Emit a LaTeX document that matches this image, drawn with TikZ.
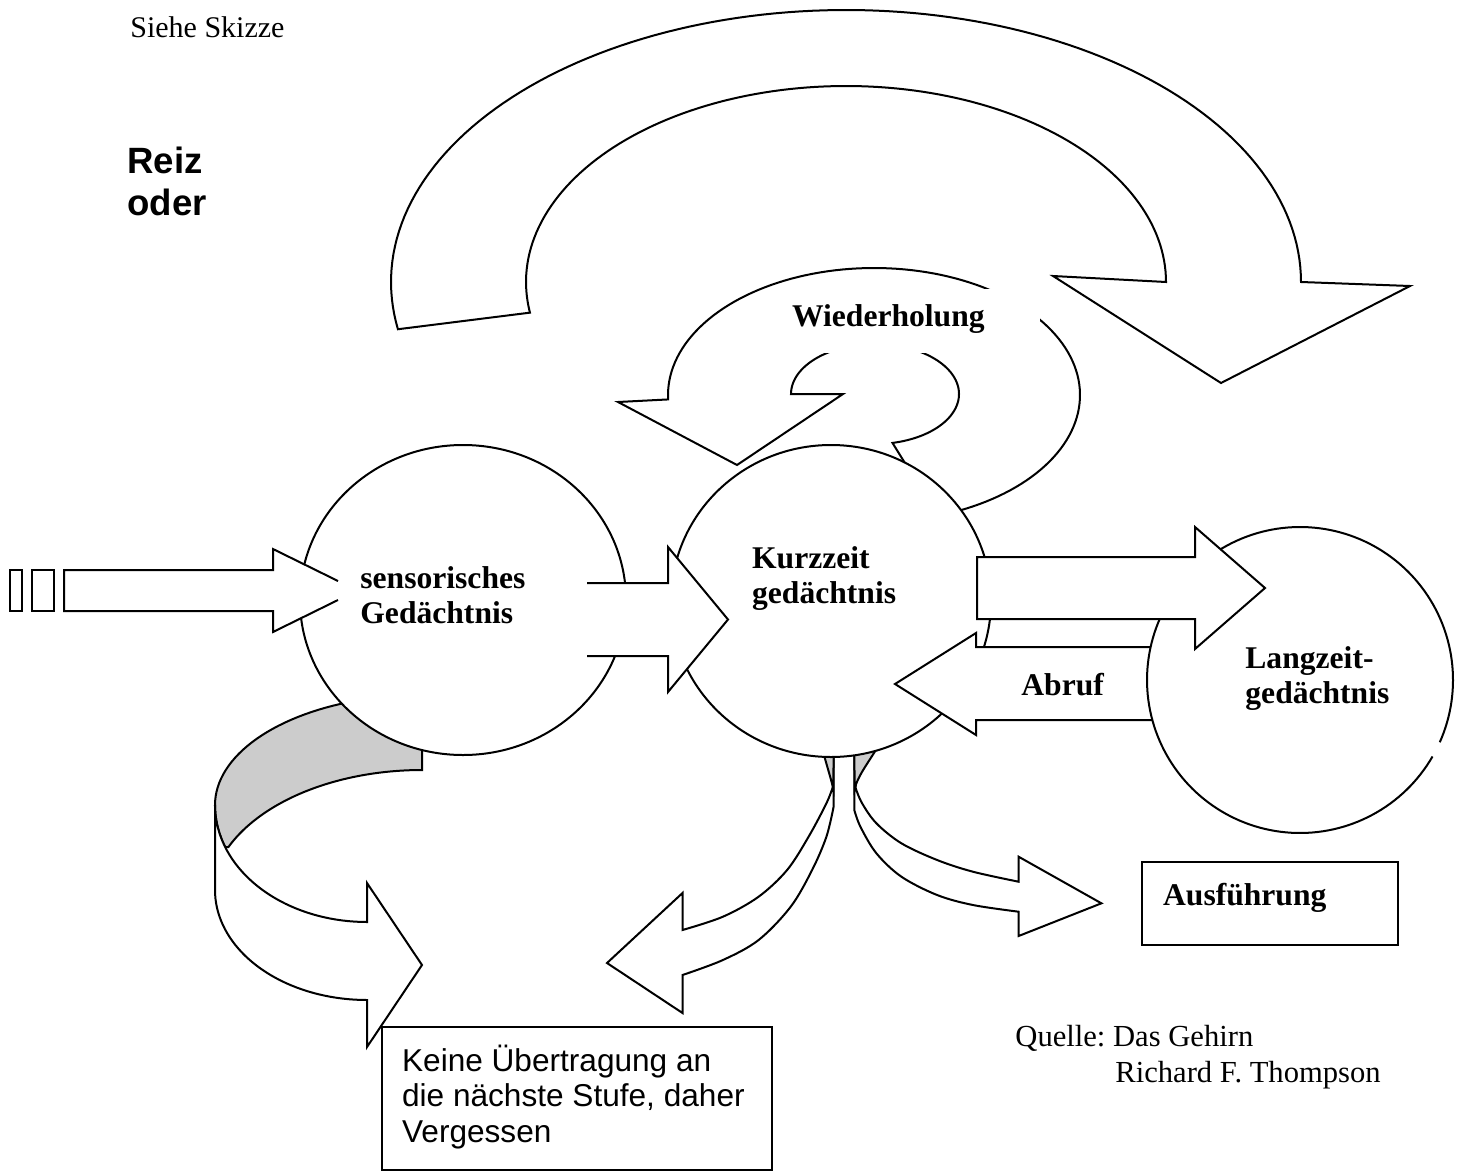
\documentclass[tikz,border=0pt]{standalone}
\usepackage{fontspec}
\setmainfont{Liberation Serif}
\newfontfamily\arialfont{Liberation Sans}
\usetikzlibrary{shapes.geometric}
\definecolor{shade}{gray}{0.8}
\frenchspacing
\begin{document}
\begin{tikzpicture}[x=0.5pt,y=-0.5pt,
  outline/.style={draw=black,line width=1pt,line join=miter,fill=white},
  grayband/.style={draw=black,line width=1pt,line join=miter,fill=shade},
  lbl/.style={inner sep=0pt,anchor=base west,font=\fontsize{15.8}{17.5}\selectfont\bfseries},
  plainlbl/.style={inner sep=0pt,anchor=base west,font=\fontsize{15.3}{17.5}\selectfont},
  sanslbl/.style={inner sep=0pt,anchor=base west,font=\arialfont\fontsize{15.8}{17.5}\selectfont},
  reizlbl/.style={inner sep=0pt,anchor=base west,font=\arialfont\bfseries\fontsize{18.3}{21}\selectfont},
  memory/.style={ellipse,draw=black,line width=1pt,fill=white,inner sep=0pt}
]
\useasboundingbox (0,0) rectangle (1460,1172);
\fill[white] (0,0) rectangle (1460,1172);

% big arc arrow on top
\draw[outline] plot[domain=0:190,samples=120] ({846+455*cos(190-\x)},{282-272*sin(190-\x)})
  -- (1410,286) -- (1221,383) -- (1053,276)
  -- plot[domain=0:189,samples=120] ({846+320*cos(\x)},{282-196*sin(\x)}) -- cycle;

% Wiederholung loop arrow
\draw[outline] (618,402)
  -- plot[domain=0:254,samples=120] ({874+206*cos(182-\x)},{395-127*sin(182-\x)})
  -- plot[domain=0:258,samples=100] ({875+84*cos(-78+\x)},{394-50*sin(-78+\x)})
  -- (843,394) -- (737,465) -- cycle;
\fill[white] (770,289) rectangle (1040,352.5);
\node[lbl] (wied) at (791.7,326) {Wiederholung};

% arrows leaving the Kurzzeit memory downwards
\draw[outline] (833.6,740) -- (833.6,806.7)
  -- plot[smooth,tension=0.55] coordinates {(833.6,806.7) (826.4,836.7) (812.1,870) (790.7,906.7) (758.6,940) (722.9,960) (682.5,975)}
  -- (682.5,1013) -- (607,963) -- (682.5,893) -- (682.5,930)
  -- plot[smooth,tension=0.55] coordinates {(682.5,930) (722.9,916.7) (758.6,896.7) (787.1,870) (808.6,836.7) (826.4,803.3) (832.8,787)}
  -- cycle;
\draw[grayband] (833.6,740) -- (833.4,789) .. controls (830,775) and (825,760) .. (820,740) -- cycle;

\draw[outline] (854.3,740) -- (854.3,810)
  -- plot[smooth,tension=0.55] coordinates {(854.3,810) (860.4,826.7) (876.4,853.3) (901.4,876.7) (937.1,895) (972.9,905) (1018.6,911.7)}
  -- (1018.6,936) -- (1101.4,903.3) -- (1018.6,856.7) -- (1018.6,881.7)
  -- plot[smooth,tension=0.55] coordinates {(1018.6,881.7) (972.9,871.7) (937.1,860) (901.4,843.3) (876.4,823.3) (862.1,803.3) (855.6,788)}
  -- cycle;
\draw[grayband] (854.3,740) -- (854.6,789) .. controls (858,775) and (869,762) .. (882,740) -- cycle;

% Kurzzeit memory
\node[memory,minimum width=160pt,minimum height=156pt] (kurz) at (831,601) {};

% curved arrow from the sensory memory (forgetting)
\draw[grayband] (422,740) -- (422,770)
  -- plot[domain=90:156,samples=40] ({422+212*cos(\x)},{900-130*sin(\x)})
  -- plot[domain=0:21,samples=10] ({367+152*cos(201-\x)},{805-117*sin(201-\x)})
  -- plot[domain=0:90,samples=40] ({422+207*cos(180-\x)},{805-110*sin(180-\x)})
  -- cycle;
\draw[outline] (215,805) -- (215,890)
  -- plot[domain=180:270,samples=40] ({367+152*cos(\x)},{890-110*sin(\x)})
  -- (367,1047) -- (422,965) -- (367,883) -- (367,922)
  -- plot[domain=0:90,samples=40] ({367+152*cos(270-\x)},{805-117*sin(270-\x)})
  -- cycle;

% sensory memory
\node[memory,minimum width=163pt,minimum height=155pt] (sens) at (463,600) {};

% input stimulus arrow
\draw[outline] (10,570) rectangle (22,611);
\draw[outline] (32,570) rectangle (54,611);
\draw[outline] (338,600) -- (273,632) -- (273,611) -- (64,611) -- (64,570) -- (273,570) -- (273,549) -- (338,581);

% sensory -> Kurzzeit
\draw[outline] (587,583) -- (668,583) -- (668,547) -- (728,619.5) -- (668,692) -- (668,656) -- (587,656);

% Abruf arrow
\draw[outline] (1200,647) -- (976,647) -- (976,633) -- (895,684) -- (976,735) -- (976,720) -- (1200,720) -- cycle;

% Langzeit memory (outline with a small gap)
\node[ellipse,fill=white,inner sep=0pt,minimum width=153pt,minimum height=153pt] (lang) at (1300,680) {};
\draw[line width=1pt] plot[domain=-24:330,samples=180] ({1300+153*cos(\x)},{680-153*sin(\x)});

% Kurzzeit -> Langzeit
\draw[outline] (977,557) -- (1195,557) -- (1195,527) -- (1265,588) -- (1195,649) -- (1195,619) -- (977,619) -- cycle;

% labels
\node[lbl] (sensA) at (360,588.3) {sensorisches};
\node[lbl] (sensB) at (360,623.3) {Gedächtnis};
\node[lbl] (kurzA) at (751.7,568.3) {Kurzzeit};
\node[lbl] (kurzB) at (751.7,603.3) {gedächtnis};
\node[lbl] (abruf) at (1021,695) {Abruf};
\node[lbl] (langA) at (1245,668) {Langzeit-};
\node[lbl] (langB) at (1245,703) {gedächtnis};

% boxes
\draw[outline] (381.7,1027.3) rectangle (771.7,1170);
\node[sanslbl] (keineA) at (401.7,1071) {Keine Übertragung an};
\node[sanslbl] (keineB) at (401.7,1106.5) {die nächste Stufe, daher};
\node[sanslbl] (keineC) at (401.7,1142) {Vergessen};

\draw[outline] (1141.7,861.7) rectangle (1397.7,945);
\node[lbl] (ausf) at (1162.7,905) {Ausführung};

% free texts
\node[plainlbl,font=\fontsize{15}{17.5}\selectfont] (skizze) at (130,38) {Siehe Skizze};
\node[reizlbl] (reizA) at (127,173) {Reiz};
\node[reizlbl] (reizB) at (127,215) {oder};
\node[plainlbl] (quelleA) at (1015,1046) {Quelle: Das Gehirn};
\node[plainlbl] (quelleB) at (1115,1082) {Richard F. Thompson};
\end{tikzpicture}
\end{document}
